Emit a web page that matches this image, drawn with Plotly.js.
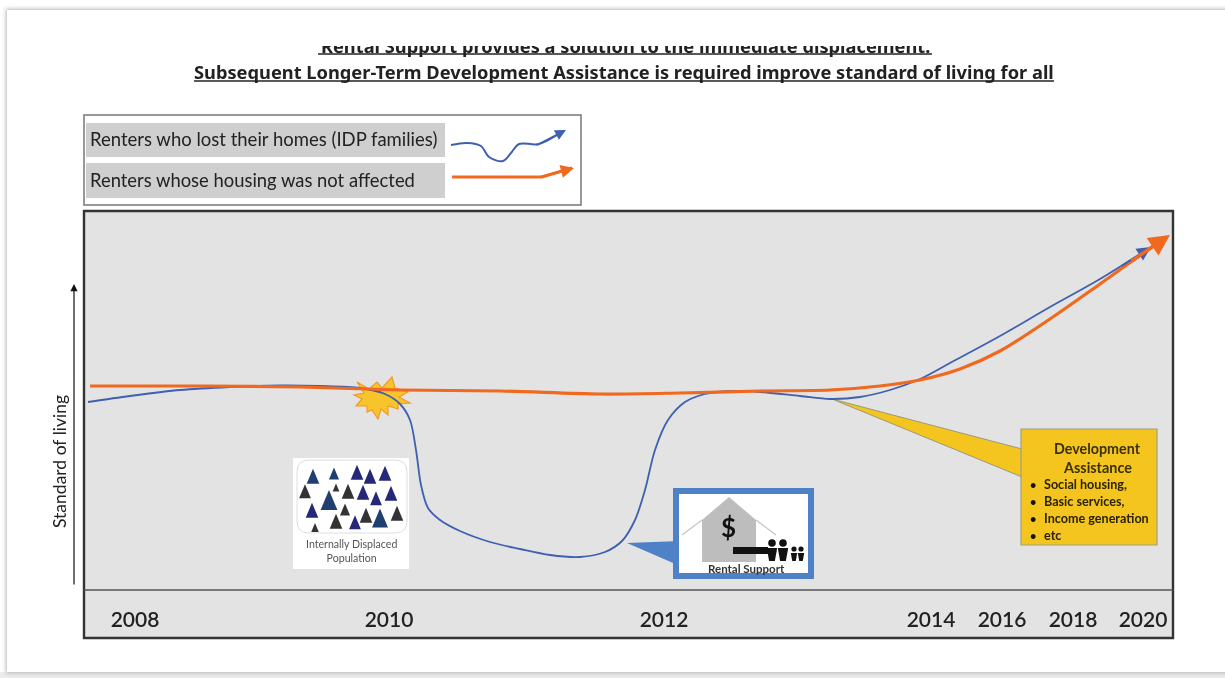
<!DOCTYPE html>
<html><head><meta charset="utf-8">
<script src="https://cdn.plot.ly/plotly-3.0.1.min.js"></script>
<style>
html,body{margin:0;padding:0;background:#fff;width:1225px;height:678px;overflow:hidden}
#floor{position:absolute;left:0;top:672px;width:1225px;height:6px;background:#ececec}
#sheet{position:absolute;left:7px;top:10px;width:1240px;height:662px;background:#fff;box-shadow:0 0 4px 1px #b5b5b5}
#chart{position:absolute;left:0;top:0;width:1225px;height:678px;filter:blur(0.55px)}
#cut{position:absolute;left:200px;top:14px;width:800px;height:32px;background:#fff}
</style></head><body>
<div id="floor"></div><div id="sheet"></div><div id="chart"></div><div id="cut"></div>
<script>
const TITLE_TOP = 'Rental Support provides a solution to the immediate displacement.';
const TITLE_MAIN = 'Subsequent Longer-Term Development Assistance is required improve standard of living for all';
const SERIES_IDP = 'Renters who lost their homes (IDP families)';
const SERIES_OK = 'Renters whose housing was not affected';
const tickPositions = [135,389,664,931,1002,1073,1143];
const tickYears = ['2008','2010','2012','2014','2016','2018','2020'];
const idpX = [88,130,180,230,280,320,360,385,400,410,416,421,428,440,460,490,520,550,580,605,622,635,645,655,668,685,705,730,760,800,830,860,890,920,950,1000,1050,1100,1148];
const idpLevel = [188,194,200,203,204.5,204,202,196,186,170,140,105,82,70,59,48,41,35,33,38,49,70,100,140,170,188,196,199,198,194,191,193,200,211,227,254,283,311,341];
const okX = [90,200,300,400,500,600,680,760,830,880,920,960,1000,1050,1100,1135,1166];
const okLevel = [204,204,203,200,199,196,197,199,200,204,210,221,239,271,306,331,353];
const campX = [313,334,357,370,385,305,336,348,363,376,391,329,312,345,366,380,397,336,355,315];
const campLevel = [113,116,117,113,116,98,102,98,97,91,96,89,79,80,74,71,76,68,67,62];
const campSize = [15,12,15,15,15,14,8,15,15,14,15,20,15,12,15,19,15,15,14,9];
const campColor = ['#1f3f70','#1f3f70','#27277a','#27277a','#27277a','#333','#333','#333','#27277a','#27277a','#27277a','#1f3f70','#27277a','#333','#333','#1f3f70','#333','#333','#27277a','#333'];
const legendIdpX = [451,467,481,489,503,511,519,539,563];
const legendIdpY = [32,34,31,20,16,24,33,33,46];
const legendOkX = [452,542,572];
const legendOkY = [0,0,9];
const devBullets = ['Social housing,','Basic services,','Income generation','etc'];

const BLUE='#3f5fb0', ORANGE='#f0691f', GOLD='#f5c51f', FONT='Lato, "Noto Sans", sans-serif';
const W=1225,H=678;
const PX=x=>x/W, PY=y=>1-y/H, Y=p=>590-p;
const poly=pts=>'M'+pts.map(p=>p[0]+','+Y(p[1])).join(' L')+' Z';
const rect=(x0,y0,x1,y1,fill,line,lw,layer)=>({type:'rect',xref:'paper',yref:'paper',x0:PX(x0),x1:PX(x1),y0:PY(y0),y1:PY(y1),fillcolor:fill,line:{color:line||fill,width:lw||0},layer:layer||'above'});
const label=(t,x,y,size,opt)=>Object.assign({text:t,xref:'paper',yref:'paper',x:PX(x),y:PY(y),showarrow:false,xanchor:'center',yanchor:'middle',font:{family:FONT,size:size,color:'#222'}},opt||{});

const star=[[357,382],[369,389],[377,382],[382,388],[392,377],[395,388],[408,392],[399,397],[410,403],[398,404],[398,409],[388,406],[388,415],[381,409],[378,419],[372,410],[367,412],[367,406],[356,406],[362,399],[354,395],[364,393]];
const people=[[772,543,3.8,548,561,5.2],[783,543,3.8,548,561,5.2],[794,549,2.6,553,561,3.2],[801,549,2.6,553,561,3.2]];

const traces=[
 {type:'scatter',mode:'lines',name:SERIES_IDP,x:idpX,y:idpLevel,line:{color:BLUE,width:1.8,shape:'spline',smoothing:0.9}},
 {type:'scatter',mode:'lines',name:SERIES_OK,x:okX,y:okLevel,line:{color:ORANGE,width:3.2,shape:'spline',smoothing:0.9}},
 {type:'scatter',mode:'lines',xaxis:'x2',yaxis:'y2',name:SERIES_IDP,x:legendIdpX,y:legendIdpY,line:{color:BLUE,width:2,shape:'spline'}},
 {type:'scatter',mode:'lines',xaxis:'x3',yaxis:'y3',name:SERIES_OK,x:legendOkX,y:legendOkY,line:{color:ORANGE,width:3}}
];

const shapes=[
 rect(84,211,1173,638,'#e3e3e3',null,0,'below'),
 rect(84,115,581,205,'#fff','#777',1.5,'below'),
 rect(86,123,445,157,'#cfcfcf',null,0,'below'),
 rect(86,163,445,198,'#cfcfcf',null,0,'below'),
 {type:'path',layer:'below',path:poly(star),fillcolor:'#f7c52b',line:{color:'#f09a2a',width:1.2}},
 {type:'rect',layer:'below',x0:293,x1:409,y0:Y(569),y1:Y(458),fillcolor:'#fff',line:{width:0}},
 {type:'path',layer:'below',path:`M309,${Y(460)} L395,${Y(460)} Q407,${Y(460)} 407,${Y(472)} L407,${Y(521)} Q407,${Y(533)} 395,${Y(533)} L309,${Y(533)} Q297,${Y(533)} 297,${Y(521)} L297,${Y(472)} Q297,${Y(460)} 309,${Y(460)} Z`,fillcolor:'#fff',line:{color:'#dedede',width:1}},
 ...campX.map((x,i)=>({type:'path',layer:'below',fillcolor:campColor[i],line:{width:0},
   path:`M${x},${campLevel[i]+campSize[i]*0.55} L${x-campSize[i]*0.42},${campLevel[i]-campSize[i]*0.45} L${x+campSize[i]*0.42},${campLevel[i]-campSize[i]*0.45} Z`})),
 {type:'path',layer:'below',path:poly([[627,543],[680,541],[680,566]]),fillcolor:'#4f81c7',line:{width:0}},
 {type:'path',layer:'below',path:poly([[832,399],[1022,449],[1022,477]]),fillcolor:GOLD,line:{color:'#9a9a7a',width:1}},
 {type:'rect',layer:'below',x0:1021,x1:1157,y0:Y(545),y1:Y(429),fillcolor:GOLD,line:{color:'#a0a080',width:1.2}},
 {type:'rect',layer:'below',x0:676,x1:811,y0:Y(576),y1:Y(491),fillcolor:'#fff',line:{color:'#4f81c7',width:6}},
 {type:'path',layer:'below',path:poly([[702,520],[729,497],[756,520],[756,562],[702,562]]),fillcolor:'#bdbdbd',line:{width:0}},
 {type:'path',layer:'below',path:`M682,${Y(535)} L702,${Y(520)} M756,${Y(520)} L776,${Y(535)}`,line:{color:'#c4c4c4',width:1.2}},
 {type:'rect',layer:'below',x0:733,x1:768,y0:Y(554),y1:Y(547),fillcolor:'#111',line:{width:0}},
 ...people.flatMap(p=>[
  {type:'circle',layer:'below',x0:p[0]-p[2],x1:p[0]+p[2],y0:Y(p[1]+p[2]),y1:Y(p[1]-p[2]),fillcolor:'#111',line:{width:0}},
  {type:'path',layer:'below',path:poly([[p[0]-p[5],p[3]],[p[0]+p[5],p[3]],[p[0]+p[5]*0.55,p[4]],[p[0]-p[5]*0.55,p[4]]]),fillcolor:'#111',line:{width:0}}
 ]),
 rect(84,211,1173,638,'rgba(0,0,0,0)','#333',2.4),
 {type:'line',xref:'paper',yref:'paper',x0:PX(84),x1:PX(1173),y0:PY(590),y1:PY(590),line:{color:'#555',width:1.3}},
 {type:'line',xref:'paper',yref:'paper',x0:PX(194),x1:PX(1054),y0:PY(81),y1:PY(81),line:{color:'#222',width:1.4}},
 {type:'line',xref:'paper',yref:'paper',x0:PX(318),x1:PX(932),y0:PY(54),y1:PY(54),line:{color:'#222',width:1.4}}
];

const arrow=(x,y,ax,ay,color,w,head,hs)=>({x:PX(x),y:PY(y),ax:PX(ax),ay:PY(ay),xref:'paper',yref:'paper',axref:'paper',ayref:'paper',text:'',showarrow:true,arrowhead:head,arrowsize:hs,arrowwidth:w,arrowcolor:color});
const TFONT='"Noto Sans", Lato, sans-serif';
const annotations=[
 label('<b>'+TITLE_TOP+'</b>',625,46,18.25,{font:{family:TFONT,size:18.25,color:'#222'}}),
 label('<b>'+TITLE_MAIN+'</b>',624,71.5,18.25,{font:{family:TFONT,size:18.25,color:'#222'}}),
 label(SERIES_IDP,88,139,18.5,{xanchor:'left'}),
 label(SERIES_OK,88,180,18.4,{xanchor:'left'}),
 label('Standard of living',60,462,17.5,{textangle:-90}),
 label('Internally Displaced<br>Population',351,551,10.6,{font:{family:FONT,size:10.6,color:'#555'}}),
 label('<b>$</b>',728,527,26,{font:{family:FONT,size:26,color:'#111'}}),
 label('<b>Rental Support</b>',746,568,11.5,{font:{family:FONT,size:11.5,color:'#333'}}),
 label('<b>Development</b>',1097,449,14.3,{font:{family:FONT,size:14.3,color:'#3a3000'}}),
 label('<b>Assistance</b>',1097,467,14.4,{font:{family:FONT,size:14.4,color:'#3a3000'}}),
 ...devBullets.map((t,i)=>label('<b>•</b>',1033,484+17*i,11,{font:{family:FONT,size:11,color:'#111'}})),
 ...devBullets.map((t,i)=>label('<b>'+t+'</b>',1042,484+17*i,12.6,{xanchor:'left',font:{family:FONT,size:12.6,color:'#2a2200'}})),
 arrow(74,284,74,586,'#111',1.2,2,1.2),
 arrow(1151,247,1120,267,BLUE,2,2,1.4),
 arrow(1170,235,1130,262,ORANGE,3.5,2,1.2),
 arrow(566,130,535,146,BLUE,1.8,2,1.2),
 arrow(574,168,540,177,ORANGE,2.4,2,1.1)
];

const hidden={visible:false,fixedrange:true};
const layout={
 width:W,height:H,margin:{l:0,r:0,t:0,b:0},
 paper_bgcolor:'rgba(0,0,0,0)',plot_bgcolor:'rgba(0,0,0,0)',showlegend:false,
 xaxis:{domain:[PX(84),PX(1173)],range:[84,1173],tickmode:'array',tickvals:tickPositions,ticktext:tickYears,
  showgrid:false,zeroline:false,showline:false,ticks:'',ticklabelstandoff:15,tickfont:{family:FONT,size:21,color:'#222',weight:600}},
 yaxis:{domain:[PY(590),PY(211)],range:[0,379],showgrid:false,zeroline:false,showline:false,showticklabels:false,ticks:''},
 xaxis2:Object.assign({domain:[PX(445),PX(581)],range:[445,581],anchor:'y2'},hidden),
 yaxis2:Object.assign({domain:[PY(177),PY(115)],range:[0,62],anchor:'x2'},hidden),
 xaxis3:Object.assign({domain:[PX(445),PX(581)],range:[445,581],anchor:'y3'},hidden),
 yaxis3:Object.assign({domain:[PY(190),PY(160)],range:[-13,17],anchor:'x3'},hidden),
 shapes,annotations
};
Plotly.newPlot('chart',traces,layout,{staticPlot:true,displayModeBar:false});
</script></body></html>
